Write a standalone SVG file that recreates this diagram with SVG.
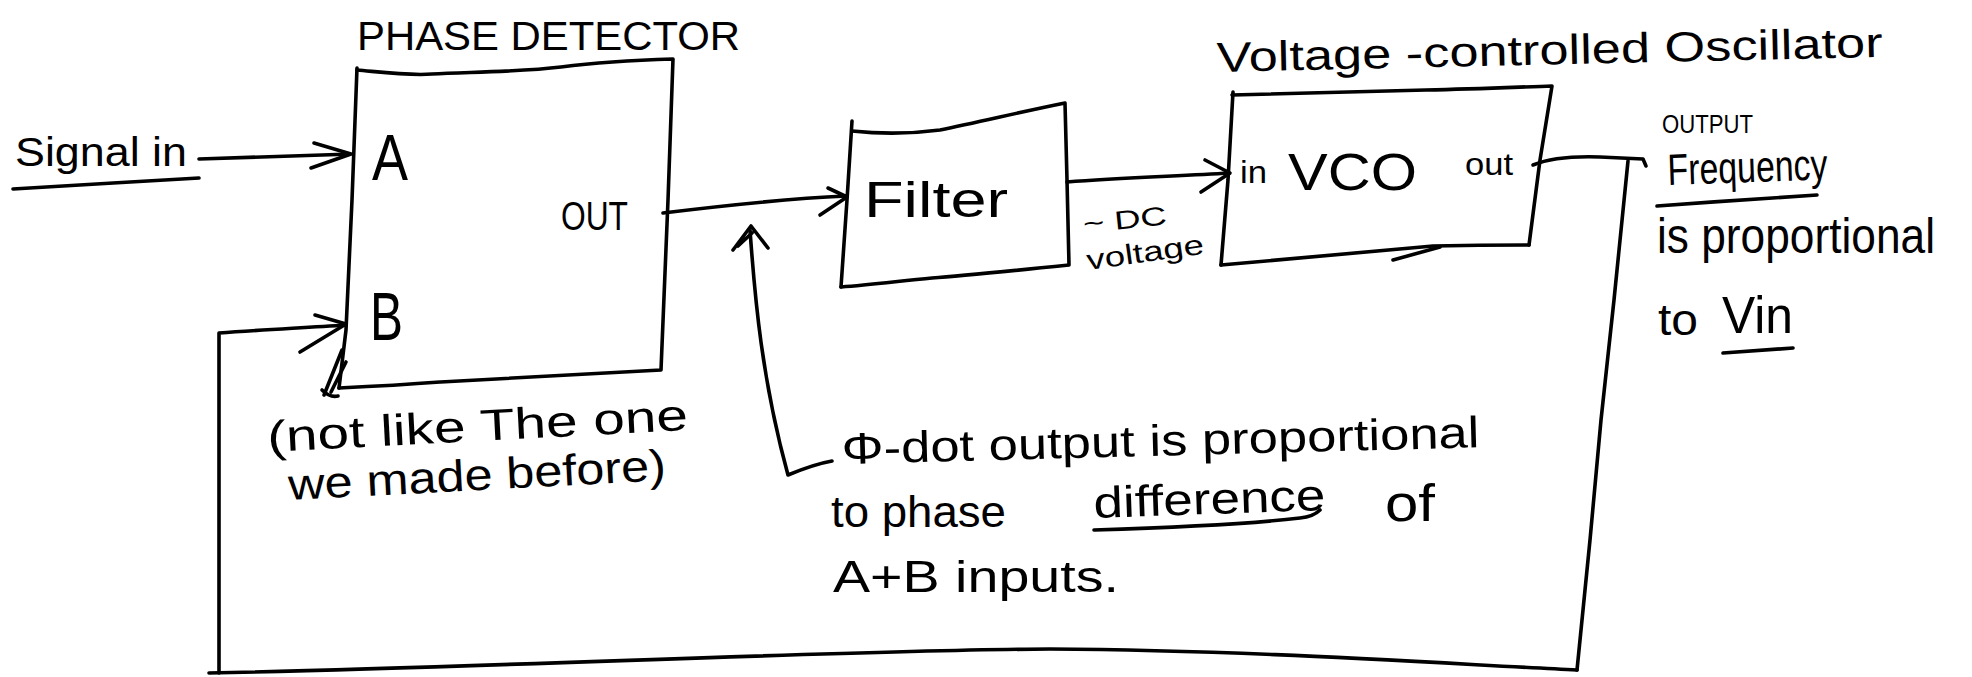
<svg xmlns="http://www.w3.org/2000/svg" width="1972" height="677" viewBox="0 0 1972 677">
  <style>
    .ink { fill: none; stroke: #000; stroke-width: 3.6; stroke-linecap: round; stroke-linejoin: round; }
    .hand { font-family: "Liberation Sans", "DejaVu Sans", sans-serif; fill: #000; }
  </style>
  <rect width="1972" height="677" fill="#fff"/>

  <!-- Phase detector block -->
  <g id="phase-detector">
    <text class="hand" x="357" y="50" font-size="40" textLength="383" lengthAdjust="spacingAndGlyphs">PHASE DETECTOR</text>
    <path class="ink" d="M357,70 C380,72 410,76 432,74 C470,72 520,72 561,67 C600,62 640,60 673,59 L668,200 L661,370 C600,373 520,378 440,382 C400,385 360,387 339,388"/>
    <path class="ink" d="M357,68 L352,200 L346,330 L339,388"/>
    <text class="hand" x="372" y="180" font-size="64" textLength="36" lengthAdjust="spacingAndGlyphs">A</text>
    <text class="hand" x="370" y="340" font-size="68" textLength="33" lengthAdjust="spacingAndGlyphs">B</text>
    <text class="hand" x="561" y="230" font-size="40" textLength="67" lengthAdjust="spacingAndGlyphs">OUT</text>
    <path class="ink" d="M324,395 L342,350 M331,392 L346,362 M322,390 Q330,398 338,396"/>
  </g>

  <!-- Loop filter block -->
  <g id="filter">
    <path class="ink" d="M852,131 C880,134 910,134 940,130 C980,122 1020,112 1065,103 L1067,180 L1069,265 C1020,270 960,276 932,278 C900,281 870,285 841,287"/>
    <path class="ink" d="M852,121 L847,200 L841,287"/>
    <text class="hand" x="864" y="217" font-size="50" textLength="144" lengthAdjust="spacingAndGlyphs">Filter</text>
  </g>

  <!-- Voltage-controlled oscillator block -->
  <g id="vco">
    <text class="hand" x="1217" y="72" font-size="42" textLength="666" lengthAdjust="spacingAndGlyphs" transform="rotate(-1.3 1217 72)">Voltage -controlled Oscillator</text>
    <path class="ink" d="M1232,95 C1280,94 1350,92 1426,90 C1480,89 1520,87 1552,86 L1540,160 L1529,245"/>
    <path class="ink" d="M1233,92 L1228,180 L1221,265"/>
    <path class="ink" d="M1221,265 C1300,258 1380,251 1433,246 C1480,245 1510,245 1529,245"/>
    <path class="ink" d="M1393,260 L1440,247"/>
    <text class="hand" x="1240" y="183" font-size="32" textLength="27" lengthAdjust="spacingAndGlyphs">in</text>
    <text class="hand" x="1288" y="190" font-size="52" textLength="129" lengthAdjust="spacingAndGlyphs">VCO</text>
    <text class="hand" x="1465" y="175" font-size="32" textLength="48" lengthAdjust="spacingAndGlyphs">out</text>
  </g>

  <!-- Input label -->
  <g id="signal-in">
    <text class="hand" x="15" y="166" font-size="40" textLength="172" lengthAdjust="spacingAndGlyphs">Signal in</text>
    <path class="ink" d="M13,189 C70,186 140,181 199,178"/>
  </g>

  <!-- Filter output label -->
  <g id="dc-label">
    <text class="hand" x="1084" y="233" font-size="26" textLength="84" lengthAdjust="spacingAndGlyphs" transform="rotate(-6 1084 233)">~ DC</text>
    <text class="hand" x="1088" y="270" font-size="28" textLength="118" lengthAdjust="spacingAndGlyphs" transform="rotate(-8 1088 270)">voltage</text>
  </g>

  <!-- VCO output note -->
  <g id="output-note">
    <text class="hand" x="1662" y="133" font-size="26" textLength="91" lengthAdjust="spacingAndGlyphs">OUTPUT</text>
    <text class="hand" x="1668" y="185" font-size="44" textLength="160" lengthAdjust="spacingAndGlyphs" transform="rotate(-2 1668 185)">Frequency</text>
    <path class="ink" d="M1657,206 C1710,202 1770,198 1817,195"/>
    <text class="hand" x="1657" y="253" font-size="50" textLength="278" lengthAdjust="spacingAndGlyphs">is proportional</text>
    <text class="hand" x="1658" y="335" font-size="44" textLength="40" lengthAdjust="spacingAndGlyphs">to</text>
    <text class="hand" x="1722" y="333" font-size="52" textLength="71" lengthAdjust="spacingAndGlyphs">Vin</text>
    <path class="ink" d="M1723,353 L1793,348"/>
  </g>

  <!-- Phase detector remark -->
  <g id="pd-note">
    <text class="hand" x="268" y="452" font-size="44" textLength="421" lengthAdjust="spacingAndGlyphs" transform="rotate(-3 268 452)">(not like The one</text>
    <text class="hand" x="289" y="500" font-size="44" textLength="378" lengthAdjust="spacingAndGlyphs" transform="rotate(-3 289 500)">we made before)</text>
  </g>

  <!-- Phase detector output remark -->
  <g id="output-remark">
    <text class="hand" x="842" y="464" font-size="44" textLength="638" lengthAdjust="spacingAndGlyphs" transform="rotate(-1.5 842 464)">Φ-dot output is proportional</text>
    <text class="hand" x="831" y="527" font-size="44" textLength="175" lengthAdjust="spacingAndGlyphs">to phase</text>
    <text class="hand" x="1094" y="518" font-size="44" textLength="232" lengthAdjust="spacingAndGlyphs" transform="rotate(-2 1094 518)">difference</text>
    <path class="ink" d="M1094,530 C1160,528 1250,524 1300,518 C1310,517 1316,514 1320,510"/>
    <text class="hand" x="1385" y="521" font-size="52" textLength="50" lengthAdjust="spacingAndGlyphs">of</text>
    <text class="hand" x="833" y="592" font-size="44" textLength="286" lengthAdjust="spacingAndGlyphs">A+B inputs.</text>
  </g>

  <!-- Signal paths -->
  <g id="connectors">
    <path class="ink" d="M199,159 C250,157 300,156 350,154"/>
    <path class="ink" d="M314,143 L351,154 L311,168"/>

    <path class="ink" d="M663,213 C720,206 780,199 846,196"/>
    <path class="ink" d="M828,188 L847,197 L820,215"/>

    <path class="ink" d="M1067,182 C1120,178 1180,176 1229,173"/>
    <path class="ink" d="M1205,160 L1230,173 L1201,192"/>

    <path class="ink" d="M1533,165 C1550,158 1570,156 1600,157 L1643,159 L1646,166"/>
    <path class="ink" d="M1628,161 L1614,300 L1601,420 L1590,540 L1577,670"/>
    <path class="ink" d="M1577,670 C1450,664 1250,650 1050,649 C850,650 500,667 209,673"/>
    <path class="ink" d="M219,673 L219,333 C260,330 300,328 346,325"/>
    <path class="ink" d="M315,315 L346,324 L300,352"/>

    <path class="ink" d="M750,230 C755,300 762,380 788,475 C800,470 815,464 832,461"/>
    <path class="ink" d="M733,250 L751,226 L768,248 M738,246 L752,233"/>
  </g>
</svg>
